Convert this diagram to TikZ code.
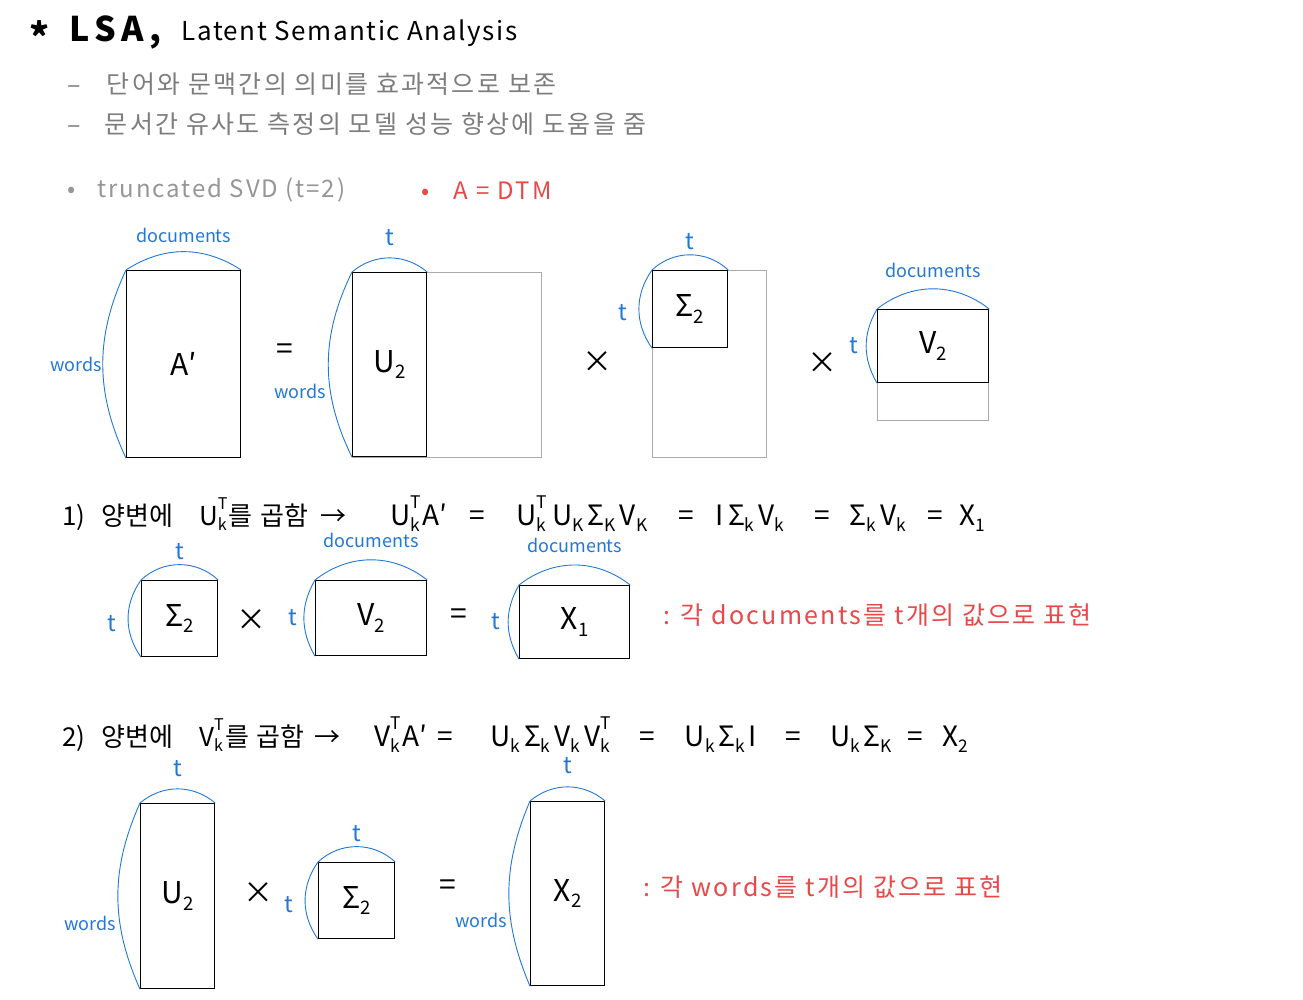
\documentclass[tikz,border=0pt]{standalone}
\usepackage{fontspec}
\setmainfont{Noto Sans CJK KR}
\newfontfamily\handfont[LetterSpace=9]{Noto Sans CJK KR}
\usepackage{tikz}
\usetikzlibrary{positioning}

\definecolor{dimblue}{RGB}{35,120,215}
\definecolor{notered}{RGB}{232,72,72}
\definecolor{textgray}{RGB}{125,125,125}
\definecolor{lightgray}{RGB}{150,150,150}
\definecolor{boxgray}{RGB}{170,170,170}

\newcommand{\ix}[1]{\raisebox{-0.22em}{\scalebox{0.62}{#1}}}
\newcommand{\ixt}[1]{\rlap{\raisebox{0.6em}{\scalebox{0.62}{T}}}\raisebox{-0.22em}{\scalebox{0.62}{#1}}\hspace{2pt}}
\newcommand{\gapf}{\hspace{4pt}}

\tikzset{
  mbox/.style n args={2}{
    rectangle, draw=black, line width=1.2pt,
    minimum width=#1pt, minimum height=#2pt, inner sep=0pt,
    anchor=north west, font=\fontsize{30}{32}\selectfont
  },
  gbox/.style n args={2}{
    rectangle, draw=boxgray, line width=1.1pt,
    minimum width=#1pt, minimum height=#2pt, inner sep=0pt,
    anchor=north west
  },
  toparc/.style={draw=dimblue, line width=0.9pt, bend left=#1},
  toparc/.default=40,
  sidearc/.style={draw=dimblue, line width=0.9pt, bend right=#1},
  sidearc/.default=25,
  dimlbl/.style={text=dimblue, font=\fontsize{18}{20}\selectfont, inner sep=1pt},
  tlbl/.style={text=dimblue, font=\fontsize{23}{24}\selectfont, inner sep=1pt},
  optxt/.style={font=\fontsize{30}{32}\selectfont, inner sep=0pt},
  eqpart/.style={anchor=base, inner sep=0pt, font=\fontsize{28}{32}\selectfont},
  eqhead/.style={anchor=base west, inner sep=0pt, font=\fontsize{26}{32}\selectfont},
  notetxt/.style={anchor=west, text=notered, font=\handfont\fontsize{25}{28}\selectfont},
  graytxt/.style={anchor=west, text=textgray, font=\handfont\fontsize{25}{28}\selectfont},
}

\begin{document}
\begin{tikzpicture}[x=1pt, y=-1pt]
  \path[fill=white, use as bounding box] (0,0) rectangle (1303,1000);

  % title and remarks
  \node[font=\fontsize{38}{40}\selectfont\bfseries, inner sep=0pt] (star) at (40,36) {*};
  \node[anchor=west, font=\fontsize{34}{36}\selectfont\bfseries\addfontfeature{LetterSpace=16}]
       (ttl) at (66,32) {LSA,};
  \node[anchor=base west, font=\fontsize{26}{28}\selectfont\addfontfeature{LetterSpace=6}]
       (ttlsub) at (178,41) {Latent Semantic Analysis};

  \node[graytxt] (rem1) at (64,84) {–\hspace{26pt}단어와 문맥간의 의미를 효과적으로 보존};
  \node[graytxt] (rem2) at (64,124) {–\hspace{24pt}문서간 유사도 측정의 모델 성능 향상에 도움을 줌};

  \node[anchor=west, text=lightgray, font=\fontsize{24}{26}\selectfont\addfontfeature{LetterSpace=8}]
       (svd) at (64,190) {•\hspace{22pt}truncated SVD (t=2)};
  \node[anchor=west, text=notered, font=\fontsize{24}{26}\selectfont\addfontfeature{LetterSpace=10}]
       (dtm) at (418,191) {•\hspace{24pt}A = DTM};

  % truncated SVD
  \node[mbox={114}{187}] (A) at (126,270) {A′};
  \draw[toparc=33] (A.north west) to (A.north east);
  \draw[sidearc] (A.north west) to (A.south west);
  \node[dimlbl, above=26pt of A.north] (lblA) {documents};
  \node[dimlbl, left=23pt of A.west] (sideA) {words};

  \node[optxt] (eq1) at (285,352) {=};

  \node[gbox={189}{185}] (U1g) at (352,272) {};
  \node[mbox={74}{184}] (U1) at (352,272) {U\ix{2}};
  \draw[toparc] (U1.north west) to (U1.north east);
  \draw[sidearc=26] (U1.north west) to (U1.south west);
  \node[tlbl, above=25pt of U1.north] (lblU1) {t};
  \node[dimlbl, left=25pt of U1.west, yshift=-27pt] (sideU1) {words};

  \node[optxt] (mul1) at (597,362) {×};

  \node[gbox={114}{187}] (S1g) at (652,270) {};
  \node[mbox={75}{77}] (S1) at (652,270) {Σ\ix{2}};
  \draw[toparc=43] (S1.north west) to (S1.north east);
  \draw[sidearc=35] (S1.north west) to (S1.south west);
  \node[tlbl, above=19pt of S1.north] (lblS1) {t};
  \node[tlbl, left=24pt of S1.west, yshift=-4pt] (sideS1) {t};

  \node[optxt] (mul2) at (822,363) {×};

  \node[gbox={111}{111}] (V1g) at (877,309) {};
  \node[mbox={111}{73}] (V1) at (877,309) {V\ix{2}};
  \draw[toparc=38] (V1.north west) to (V1.north east);
  \draw[sidearc=30] (V1.north west) to (V1.south west);
  \node[dimlbl, above=30pt of V1.north] (lblV1) {documents};
  \node[tlbl, left=18pt of V1.west] (sideV1) {t};

  % 1) documents
  \node[eqhead] (e1h) at (62,525)
       {1)\hspace{16pt}양변에\hspace{26pt}U\ixt{k}를\hspace{8pt}곱함\hspace{12pt}→};
  \foreach \xx/\tx [count=\i] in {419/{U\ixt{k}A′}, 477/=,
      582/{U\ixt{k}\gapf U\ix{K}\gapf Σ\ix{K}\gapf V\ix{K}}, 686/=,
      750/{I\gapf Σ\ix{k}\gapf V\ix{k}}, 822/=, 878/{Σ\ix{k}\gapf V\ix{k}}, 935/=, 972/{X\ix{1}}}
    \node[eqpart] (e1-\i) at (\xx,525) {\tx};

  \node[mbox={76}{76}] (S2) at (141,580) {Σ\ix{2}};
  \draw[toparc=43] (S2.north west) to (S2.north east);
  \draw[sidearc=35] (S2.north west) to (S2.south west);
  \node[tlbl, above=19pt of S2.north] (lblS2) {t};
  \node[tlbl, left=24pt of S2.west, yshift=-5pt] (sideS2) {t};

  \node[optxt] (mul3) at (251,620) {×};

  \node[mbox={111}{75}] (V2) at (315,580) {V\ix{2}};
  \draw[toparc=38] (V2.north west) to (V2.north east);
  \draw[sidearc=30] (V2.north west) to (V2.south west);
  \node[dimlbl, above=31pt of V2.north] (lblV2) {documents};
  \node[tlbl, left=17pt of V2.west] (sideV2) {t};

  \node[optxt] (eq2) at (459,617) {=};

  \node[mbox={110}{73}] (X1) at (519,585) {X\ix{1}};
  \draw[toparc=38] (X1.north west) to (X1.north east);
  \draw[sidearc=30] (X1.north west) to (X1.south west);
  \node[dimlbl, above=31pt of X1.north] (lblX1) {documents};
  \node[tlbl, left=18pt of X1.west] (sideX1) {t};

  \node[notetxt] (note1) at (660,615) {: 각 documents를 t개의 값으로 표현};

  % 2) words
  \node[eqhead] (e2h) at (62,746)
       {2)\hspace{16pt}양변에\hspace{26pt}V\ixt{k}를\hspace{8pt}곱함\hspace{10pt}→};
  \foreach \xx/\tx [count=\i] in {401/{V\ixt{k}A′}, 445/=,
      550/{U\ix{k}\gapf Σ\ix{k}\gapf V\ix{k}\gapf V\ixt{k}}, 647/=,
      721/{U\ix{k}\gapf Σ\ix{k}\gapf I}, 793/=, 861/{U\ix{k}\gapf Σ\ix{K}}, 915/=, 955/{X\ix{2}}}
    \node[eqpart] (e2-\i) at (\xx,746) {\tx};

  \node[mbox={74}{185}] (U3) at (140,803) {U\ix{2}};
  \draw[toparc] (U3.north west) to (U3.north east);
  \draw[sidearc=24] (U3.north west) to (U3.south west);
  \node[tlbl, above=25pt of U3.north] (lblU3) {t};
  \node[dimlbl, left=23pt of U3.west, yshift=-27pt] (sideU3) {words};

  \node[optxt] (mul4) at (258,893) {×};

  \node[mbox={76}{76}] (S3) at (318,862) {Σ\ix{2}};
  \draw[toparc=43] (S3.north west) to (S3.north east);
  \draw[sidearc=35] (S3.north west) to (S3.south west);
  \node[tlbl, above=19pt of S3.north] (lblS3) {t};
  \node[tlbl, left=24pt of S3.west, yshift=-4pt] (sideS3) {t};

  \node[optxt] (eq3) at (448,888) {=};

  \node[mbox={74}{184}] (X2) at (530,801) {X\ix{2}};
  \draw[toparc] (X2.north west) to (X2.north east);
  \draw[sidearc=23] (X2.north west) to (X2.south west);
  \node[tlbl, above=26pt of X2.north] (lblX2) {t};
  \node[dimlbl, left=22pt of X2.west, yshift=-27pt] (sideX2) {words};

  \node[notetxt] (note2) at (640,887) {: 각 words를 t개의 값으로 표현};
\end{tikzpicture}
\end{document}
